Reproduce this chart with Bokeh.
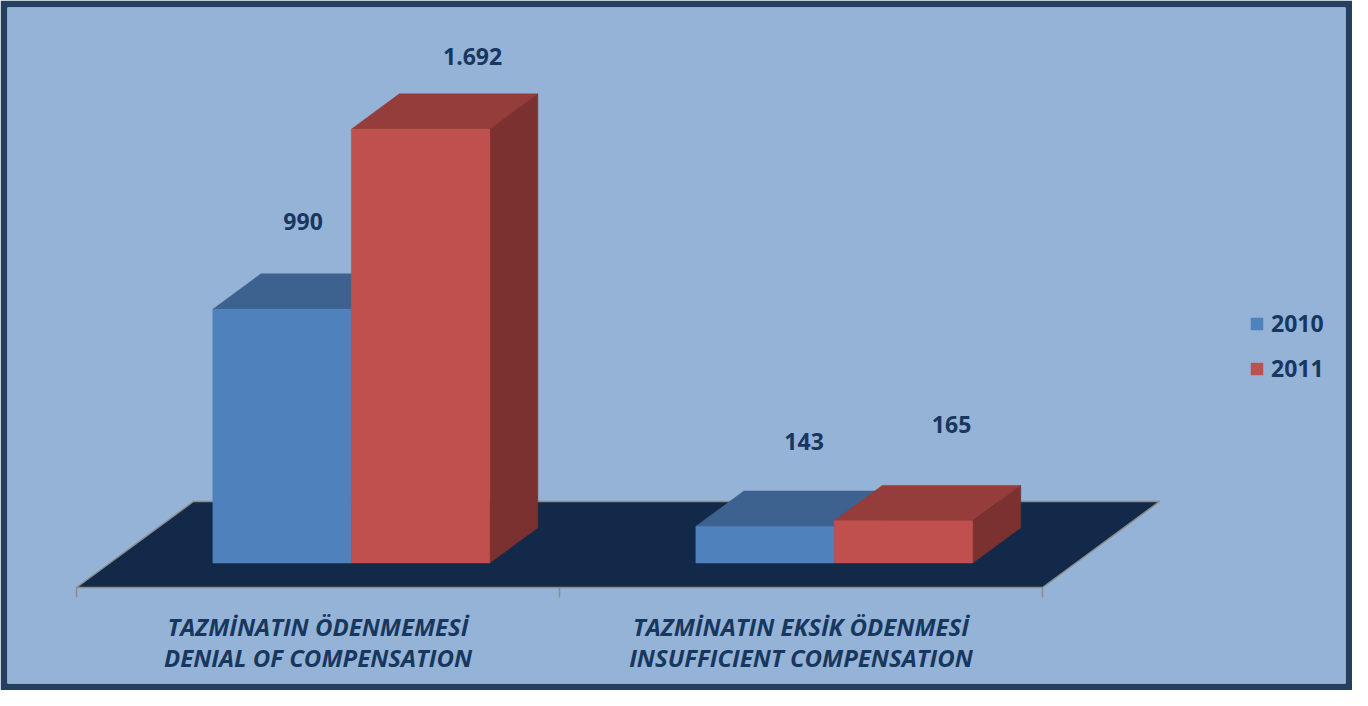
from bokeh.plotting import figure
from bokeh.models import Range1d, Legend, LegendItem
from bokeh.core.properties import value
from bokeh.embed import file_html
from bokeh.resources import INLINE

# ---------------- data ----------------
categories_tr = ["TAZMİNATIN ÖDENMEMESİ", "TAZMİNATIN EKSİK ÖDENMESİ"]
categories_en = ["DENIAL OF COMPENSATION", "INSUFFICIENT COMPENSATION"]
years = ["2010", "2011"]
values_2010 = [990, 143]
values_2011 = [1692, 165]

# ---------------- style ----------------
FRONT = {"2010": "#4F81BD", "2011": "#C0504D"}
TOP = {"2010": "#3D6290", "2011": "#943D3A"}
SIDE = {"2010": "#365785", "2011": "#7A312F"}
TEXT = "#17375E"
BG = "#95B3D7"
BORDER = "#243F60"
FLOOR = "#12294A"
EDGE = "#8C8C8C"
FONT = "Open Sans"

W, H, MB = 1352, 690, 7
PX_CAT = 483.0        # pixels per category
PX_VAL = 0.2564       # pixels per unit of value
SLOPE = 1.36          # horizontal px per vertical px of depth
FLOOR_DEPTH = 86.0
BAR_FRONT, BAR_BACK = 24.5, 59.8
BAR_W = 0.2867        # bar width in category units
ORIGIN_X, ORIGIN_Y = 69.0, 96.0   # axis origin from frame left / frame bottom (px)
CAT_LINE1, CAT_LINE2 = 39.0, 70.0  # category label centres below the floor edge (px)

def proj(x, v, d):
    """category x, value v, depth d (px) -> data coords"""
    return x + d * SLOPE / PX_CAT, v + d / PX_VAL

def fmt(v):
    return f"{v:,}".replace(",", ".")

FW, FH = W - 2 * MB, H - 2 * MB
x0 = -ORIGIN_X / PX_CAT
y0 = -ORIGIN_Y / PX_VAL
p = figure(width=W, height=H, frame_width=FW, frame_height=FH,
           x_range=Range1d(x0, x0 + FW / PX_CAT), y_range=Range1d(y0, y0 + FH / PX_VAL),
           x_axis_type=None, y_axis_type=None, output_backend="svg",
           toolbar_location=None, min_border=MB,
           background_fill_color=BG, border_fill_color=BORDER)
p.outline_line_color = None
p.grid.visible = False

ncat = len(categories_tr)

# floor
fl = [proj(0, 0, 0), proj(ncat, 0, 0), proj(ncat, 0, FLOOR_DEPTH), proj(0, 0, FLOOR_DEPTH)]
p.patch([a for a, b in fl], [b for a, b in fl], fill_color=FLOOR, line_color=EDGE, line_width=1.5)

# ticks under the floor front edge
tx = list(range(ncat + 1))
p.segment(x0=tx, y0=[0] * len(tx), x1=tx, y1=[-10 / PX_VAL] * len(tx), line_color=EDGE, line_width=1.5)

legend_items = []
series = {"2010": values_2010, "2011": values_2011}
label_nudge = {"2010": [(-27, -52), (-9, -50)], "2011": [(4, -37), (0, -61)]}
for s, yr in enumerate(years):
    vals = series[yr]
    tops_x, tops_y, sides_x, sides_y = [], [], [], []
    left, right, bottom, top = [], [], [], []
    lx, ly, lt = [], [], []
    for i, v in enumerate(vals):
        xl = i + 0.5 - BAR_W + s * BAR_W
        xr = xl + BAR_W
        pts = [proj(xl, v, BAR_FRONT), proj(xr, v, BAR_FRONT), proj(xr, v, BAR_BACK), proj(xl, v, BAR_BACK)]
        tops_x.append([a for a, b in pts]); tops_y.append([b for a, b in pts])
        pts = [proj(xr, 0, BAR_FRONT), proj(xr, v, BAR_FRONT), proj(xr, v, BAR_BACK), proj(xr, 0, BAR_BACK)]
        sides_x.append([a for a, b in pts]); sides_y.append([b for a, b in pts])
        l, b0 = proj(xl, 0, BAR_FRONT)
        r, t = proj(xr, v, BAR_FRONT)
        left.append(l); right.append(r); bottom.append(b0); top.append(t)
        cx, cy = proj((xl + xr) / 2, v, BAR_BACK)
        dx, dy = label_nudge[yr][i]
        lx.append(cx + dx / PX_CAT); ly.append(cy - dy / PX_VAL); lt.append(fmt(v))
    p.patches(tops_x, tops_y, fill_color=TOP[yr], line_color=TOP[yr], line_width=0.5)
    p.patches(sides_x, sides_y, fill_color=SIDE[yr], line_color=SIDE[yr], line_width=0.5)
    r_front = p.quad(left=left, right=right, bottom=bottom, top=top,
                     fill_color=FRONT[yr], line_color=FRONT[yr], line_width=0.5)
    legend_items.append(LegendItem(label=yr, renderers=[r_front]))
    p.text(x=lx, y=ly, text=lt, text_font=value(FONT), text_font_style="bold",
           text_font_size="23px", text_color=TEXT, text_align="center", text_baseline="middle")

# category labels
cx = [i + 0.5 for i in range(ncat)]
p.text(x=cx, y=[-CAT_LINE1 / PX_VAL] * ncat, text=categories_tr, text_font=value(FONT),
       text_font_style="bold italic", text_font_size="24px", text_color=TEXT,
       text_align="center", text_baseline="middle")
p.text(x=cx, y=[-CAT_LINE2 / PX_VAL] * ncat, text=categories_en, text_font=value(FONT),
       text_font_style="bold italic", text_font_size="24px", text_color=TEXT,
       text_align="center", text_baseline="middle")

legend = Legend(items=legend_items, location=(1242, 299), orientation="vertical",
                glyph_width=15, glyph_height=15, label_standoff=7, spacing=13,
                padding=0, margin=0, border_line_alpha=0, background_fill_alpha=0,
                label_text_font=FONT, label_text_font_style="bold",
                label_text_font_size="23px", label_text_color=TEXT)
p.add_layout(legend)

open("out.html", "w").write(file_html(p, INLINE))
